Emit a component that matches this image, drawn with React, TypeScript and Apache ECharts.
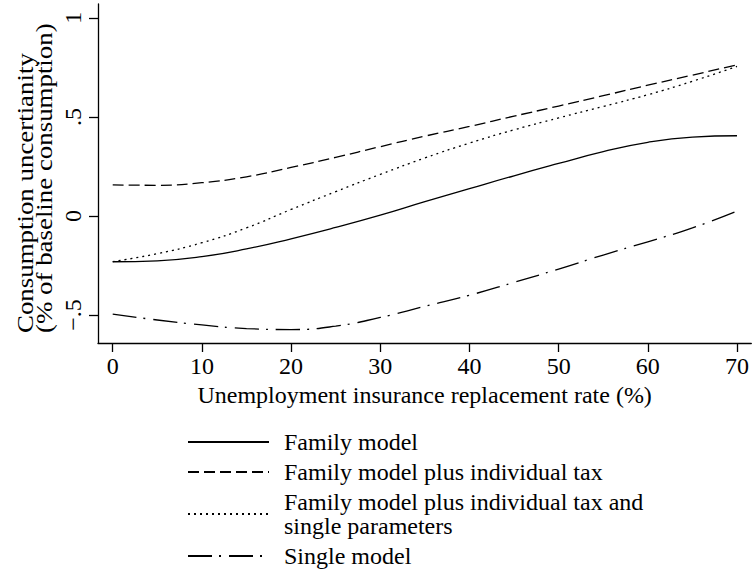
import React, { useEffect, useRef } from "react";
import * as echarts from "echarts";

const xValues = [0, 5, 10, 15, 20, 25, 30, 35, 40, 45, 50, 55, 60, 65, 70];
const familyModel = [-0.231, -0.226, -0.205, -0.166, -0.115, -0.058, 0.004, 0.072, 0.138, 0.203, 0.265, 0.325, 0.372, 0.398, 0.405];
const familyTax = [0.157, 0.155, 0.168, 0.198, 0.245, 0.296, 0.35, 0.403, 0.452, 0.504, 0.555, 0.607, 0.66, 0.711, 0.763];
const familyTaxSingle = [-0.23, -0.19, -0.135, -0.06, 0.033, 0.123, 0.21, 0.293, 0.368, 0.435, 0.495, 0.553, 0.612, 0.68, 0.755];
const singleModel = [-0.495, -0.525, -0.55, -0.568, -0.573, -0.556, -0.512, -0.456, -0.4, -0.335, -0.268, -0.197, -0.13, -0.06, 0.025];

const xTicks = [0, 10, 20, 30, 40, 50, 60, 70];
const yTicks = [-0.5, 0, 0.5, 1];
const yTickLabels: Record<string, string> = { "-0.5": "\u2212.5", "0": "0", "0.5": ".5", "1": "1" };

const yTitleLines = ["Consumption uncertianity", "(% of baseline consumption)"];
const xTitle = "Unemployment insurance replacement rate (%)";

const seriesNames = [
  "Family model",
  "Family model plus individual tax",
  "Family model plus individual tax and\nsingle parameters",
  "Single model",
];

const FONT = "'Liberation Serif', 'Times New Roman', serif";

export default function App() {
  const ref = useRef<HTMLDivElement>(null);
  useEffect(() => {
    document.body.style.margin = "0";
    const chart = echarts.init(ref.current!, null, { renderer: "svg" });
    const mk = (vals: number[]) => xValues.map((x, i) => [x, vals[i]]);
    const lineBase = { color: "#000", width: 1.3 };
    chart.setOption({
      animation: false,
      backgroundColor: "#fff",
      grid: { left: 98, top: 4, right: 0, bottom: 240 },
      xAxis: {
        type: "value",
        min: -1.65,
        max: 71.6,
        splitLine: { show: false },
        axisLine: { show: true, onZero: false, lineStyle: { color: "#000", width: 1.3 } },
        axisTick: { show: true, length: 9, customValues: xTicks, lineStyle: { color: "#000", width: 1.3 } },
        axisLabel: {
          customValues: xTicks,
          color: "#000",
          fontFamily: FONT,
          fontSize: 24,
          margin: 11,
        },
        name: xTitle,
        nameLocation: "middle",
        nameGap: 38,
        nameTextStyle: { color: "#000", fontFamily: FONT, fontSize: 24 },
      },
      yAxis: {
        type: "value",
        min: -0.641,
        max: 1.07,
        splitLine: { show: false },
        axisLine: { show: true, onZero: false, lineStyle: { color: "#000", width: 1.3 } },
        axisTick: { show: true, length: 9, customValues: yTicks, lineStyle: { color: "#000", width: 1.3 } },
        axisLabel: {
          customValues: yTicks,
          rotate: 90,
          color: "#000",
          fontFamily: FONT,
          fontSize: 24,
          margin: 13,
          formatter: (v: number) => yTickLabels[String(v)] ?? String(v),
        },
      },
      graphic: yTitleLines.map((t, i) => ({
        type: "text",
        x: i === 0 ? 25 : 44,
        y: 333,
        rotation: Math.PI / 2,
        scaleX: 1.12,
        style: {
          text: t,
          fill: "#000",
          fontFamily: FONT,
          fontSize: 24,
          align: "left",
          verticalAlign: "middle",
        },
      })),
      legend: {
        orient: "vertical",
        left: 187,
        top: 430,
        padding: 0,
        itemWidth: 81,
        itemHeight: 14,
        itemGap: 6,
        itemStyle: { opacity: 0 },
        textStyle: { color: "#000", fontFamily: FONT, fontSize: 24, lineHeight: 24, padding: [0, 0, 0, 10] },
        data: seriesNames,
      },
      series: [
        { name: seriesNames[0], type: "line", data: mk(familyModel), smooth: 0.5, symbol: "none", lineStyle: { ...lineBase, type: "solid" } },
        { name: seriesNames[1], type: "line", data: mk(familyTax), smooth: 0.5, symbol: "none", lineStyle: { ...lineBase, type: [11, 5] } },
        { name: seriesNames[2], type: "line", data: mk(familyTaxSingle), smooth: 0.5, symbol: "none", lineStyle: { ...lineBase, type: [2, 4] } },
        { name: seriesNames[3], type: "line", data: mk(singleModel), smooth: 0.5, symbol: "none", lineStyle: { ...lineBase, type: [24, 7, 2, 8] } },
      ],
    });
    return () => chart.dispose();
  }, []);
  return <div ref={ref} style={{ width: 752, height: 583 }} />;
}
